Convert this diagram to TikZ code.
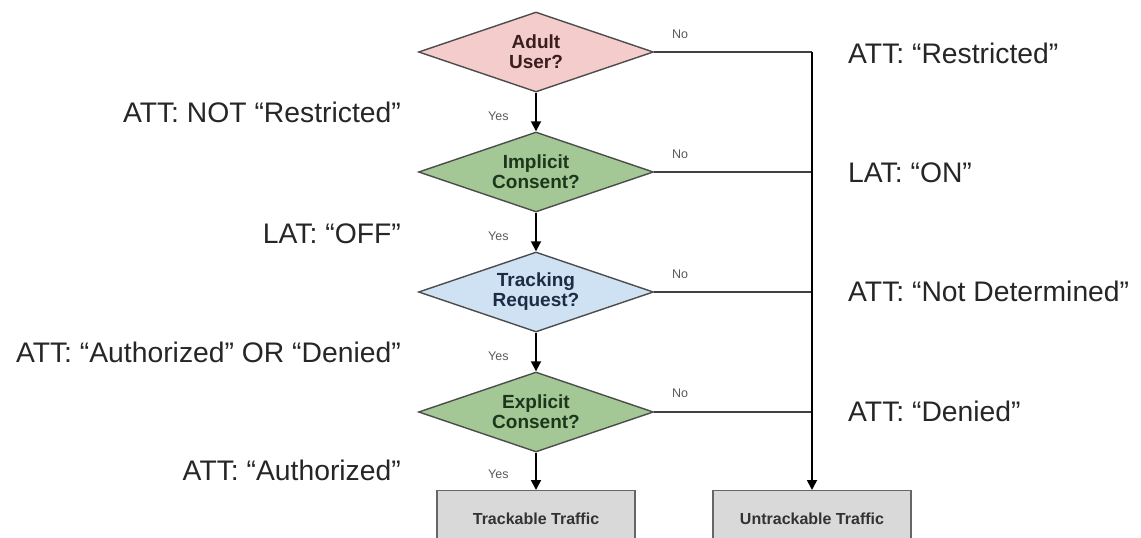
\documentclass[tikz,border=0pt]{standalone}
\usepackage{fontspec}
\setmainfont{Liberation Sans}
\usetikzlibrary{shapes.geometric,arrows.meta}
\definecolor{pinkfill}{HTML}{F4CCCC}
\definecolor{greenfill}{HTML}{A3C795}
\definecolor{bluefill}{HTML}{CFE2F3}
\definecolor{boxfill}{HTML}{D9D9D9}
\definecolor{pinktext}{HTML}{3A1E1E}
\definecolor{greentext}{HTML}{1C361C}
\definecolor{bluetext}{HTML}{1C2C44}
\begin{document}
\begin{tikzpicture}[x=1pt,y=-1pt,
  decision/.style={diamond, draw=black!70, line width=1.4pt, minimum width=235pt,
    minimum height=80pt, inner sep=0pt, aspect=2.9, align=center,
    font=\fontsize{19}{20}\selectfont\bfseries},
  endbox/.style={rectangle, draw=black!60, line width=1.4pt, fill=boxfill,
    minimum width=198pt, minimum height=56pt, inner sep=0pt, text=black!80,
    font=\fontsize{16}{18}\selectfont\bfseries},
  flow/.style={draw=black, line width=1.8pt, -{Triangle[length=10pt,width=10pt]}},
  noline/.style={draw=black!75, line width=1.5pt},
  lbl/.style={inner sep=0pt, text=black!85, font=\fontsize{28.3}{32}\selectfont},
  small/.style={inner sep=0pt, text=black!65, font=\fontsize{12.5}{14}\selectfont}
]
\useasboundingbox (0,0) rectangle (1141,538);

% decisions
\node[decision, fill=pinkfill, text=pinktext] (d1) at (536,52) {Adult\\User?};
\node[decision, fill=greenfill, text=greentext] (d2) at (536,172) {Implicit\\Consent?};
\node[decision, fill=bluefill, text=bluetext] (d3) at (536,292) {Tracking\\Request?};
\node[decision, fill=greenfill, text=greentext] (d4) at (536,412) {Explicit\\Consent?};

% end boxes
\node[endbox, anchor=north] (tt) at (536,490) {Trackable Traffic};
\node[endbox, anchor=north] (ut) at (812,490) {Untrackable Traffic};

% junctions
\coordinate (j1) at (812,52);
\coordinate (j2) at (812,172);
\coordinate (j3) at (812,292);
\coordinate (j4) at (812,412);

% yes flow
\draw[flow] (d1.south) -- (d2.north);
\draw[flow] (d2.south) -- (d3.north);
\draw[flow] (d3.south) -- (d4.north);
\draw[flow] (d4.south) -- (tt.north);

% no flow
\draw[noline] (d1.east) -- (j1);
\draw[noline] (d2.east) -- (j2);
\draw[noline] (d3.east) -- (j3);
\draw[noline] (d4.east) -- (j4);
\draw[flow] (j1) -- (ut.north);

% Yes / No labels
\node[small, anchor=base west] (y1) at (488,120) {Yes};
\node[small, anchor=base west] (y2) at (488,240) {Yes};
\node[small, anchor=base west] (y3) at (488,360) {Yes};
\node[small, anchor=base west] (y4) at (488,478) {Yes};
\node[small, anchor=base west] (n1) at (672,38) {No};
\node[small, anchor=base west] (n2) at (672,158) {No};
\node[small, anchor=base west] (n3) at (672,278) {No};
\node[small, anchor=base west] (n4) at (672,397) {No};

% left annotations
\node[lbl, anchor=base east] (l1) at (401,122) {ATT: NOT “Restricted”};
\node[lbl, anchor=base east] (l2) at (401,243) {LAT: “OFF”};
\node[lbl, anchor=base east] (l3) at (401,362) {ATT: “Authorized” OR “Denied”};
\node[lbl, anchor=base east] (l4) at (401,480) {ATT: “Authorized”};

% right annotations
\node[lbl, anchor=base west] (r1) at (848,63) {ATT: “Restricted”};
\node[lbl, anchor=base west] (r2) at (848,182) {LAT: “ON”};
\node[lbl, anchor=base west] (r3) at (848,301) {ATT: “Not Determined”};
\node[lbl, anchor=base west] (r4) at (848,421) {ATT: “Denied”};
\end{tikzpicture}
\end{document}
